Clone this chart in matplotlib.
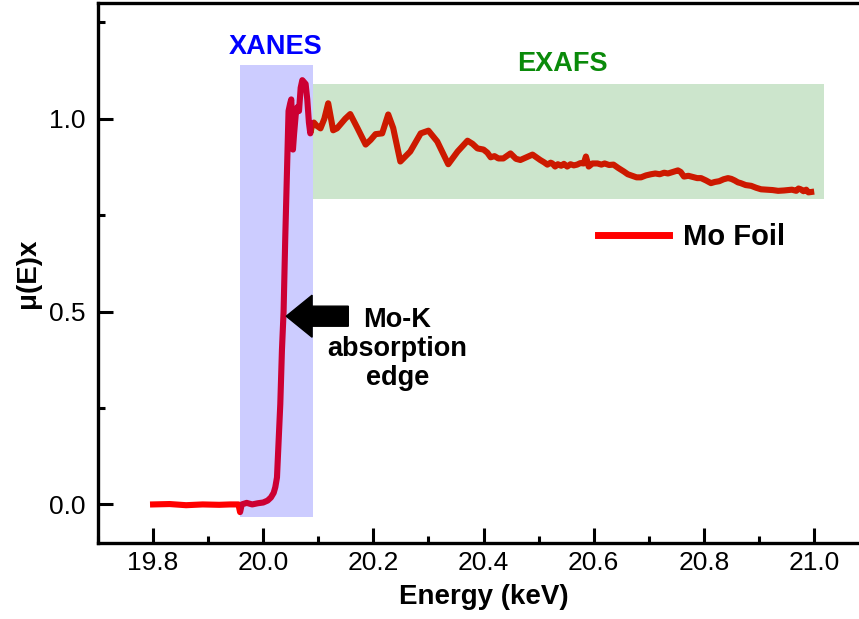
import matplotlib
matplotlib.use("Agg")
import matplotlib.pyplot as plt
from matplotlib.patches import Rectangle, FancyArrow
from matplotlib.ticker import MultipleLocator, FormatStrFormatter

plt.rcParams['font.family'] = ['Liberation Sans', 'DejaVu Sans']

# Energy (keV) and mu(E)x
energy = [19.800, 19.830, 19.860, 19.890, 19.920, 19.940, 19.955, 19.958, 19.961,
          19.970, 19.980, 19.990, 20.000, 20.008, 20.014, 20.019, 20.022, 20.025,
          20.029, 20.031, 20.034, 20.037, 20.040, 20.043, 20.0445, 20.046, 20.049,
          20.0509, 20.0527, 20.054, 20.056, 20.059, 20.062, 20.065, 20.068, 20.071,
          20.074, 20.077, 20.080, 20.083, 20.0855, 20.089, 20.092, 20.097, 20.104,
          20.111, 20.118, 20.127, 20.134, 20.140, 20.149, 20.158, 20.171, 20.186,
          20.195, 20.204, 20.216, 20.227, 20.236, 20.249, 20.267, 20.286, 20.300,
          20.316, 20.336, 20.353, 20.371, 20.380, 20.389, 20.400, 20.407, 20.413,
          20.420, 20.427, 20.436, 20.449, 20.459, 20.467, 20.478, 20.489, 20.496,
          20.503, 20.510, 20.516, 20.522, 20.525, 20.530, 20.535, 20.541, 20.546,
          20.552, 20.558, 20.564, 20.570, 20.576, 20.582, 20.586, 20.591, 20.598,
          20.607, 20.614, 20.620, 20.628, 20.636, 20.645, 20.655, 20.662, 20.670,
          20.678, 20.686, 20.695, 20.704, 20.712, 20.720, 20.728, 20.735, 20.744,
          20.753, 20.758, 20.764, 20.772, 20.780, 20.788, 20.795, 20.804, 20.813,
          20.820, 20.828, 20.836, 20.844, 20.850, 20.856, 20.862, 20.867, 20.876,
          20.886, 20.895, 20.904, 20.914, 20.925, 20.935, 20.946, 20.953, 20.960,
          20.968, 20.972, 20.976, 20.981, 20.986, 20.990, 20.995]
mu = [0.000, 0.001, -0.002, 0.000, -0.001, 0.000, 0.000, -0.020, 0.000,
      0.004, 0.000, 0.003, 0.005, 0.010, 0.018, 0.030, 0.045, 0.070,
      0.200, 0.260, 0.400, 0.500, 0.690, 0.860, 0.950, 1.020, 1.040,
      1.050, 0.980, 0.920, 0.960, 1.010, 1.030, 1.020, 1.080, 1.100,
      1.095, 1.090, 1.050, 0.990, 0.962, 0.985, 0.990, 0.982, 0.975,
      1.000, 1.040, 0.970, 0.975, 0.985, 1.000, 1.012, 0.976, 0.933,
      0.945, 0.960, 0.962, 1.011, 0.976, 0.889, 0.915, 0.962, 0.969,
      0.941, 0.882, 0.915, 0.943, 0.935, 0.923, 0.920, 0.912, 0.900,
      0.903, 0.897, 0.897, 0.910, 0.896, 0.893, 0.900, 0.907, 0.900,
      0.893, 0.887, 0.881, 0.886, 0.884, 0.876, 0.882, 0.878, 0.883,
      0.876, 0.882, 0.879, 0.881, 0.885, 0.884, 0.902, 0.876, 0.884,
      0.884, 0.881, 0.884, 0.880, 0.881, 0.872, 0.863, 0.856, 0.852,
      0.848, 0.848, 0.853, 0.856, 0.858, 0.856, 0.860, 0.858, 0.862,
      0.866, 0.862, 0.850, 0.852, 0.849, 0.846, 0.846, 0.840, 0.833,
      0.836, 0.838, 0.843, 0.846, 0.844, 0.840, 0.835, 0.833, 0.828,
      0.826, 0.821, 0.817, 0.816, 0.815, 0.813, 0.814, 0.815, 0.816,
      0.813, 0.819, 0.817, 0.812, 0.816, 0.809, 0.810]

xanes_range = (19.958, 20.091, -0.033, 1.138)
exafs_range = (20.091, 21.018, 0.791, 1.091)

fig = plt.figure(figsize=(8.59, 6.19), dpi=100)
ax = fig.add_axes([98/859, 76/619, 771/859, 540/619])

ax.plot(energy, mu, color='#ff0000', lw=4.4, solid_joinstyle='round',
        label='Mo Foil', zorder=2)

x0, x1, y0, y1 = xanes_range
ax.add_patch(Rectangle((x0, y0), x1 - x0, y1 - y0, facecolor='#0000ff',
                       alpha=0.2, edgecolor='none', zorder=3))
x0, x1, y0, y1 = exafs_range
ax.add_patch(Rectangle((x0, y0), x1 - x0, y1 - y0, facecolor='#008000',
                       alpha=0.2, edgecolor='none', zorder=3))

ax.text(20.022, 1.187, 'XANES', color='#0000ff', fontsize=19.5,
        fontweight='bold', ha='center', va='center')
ax.text(20.544, 1.143, 'EXAFS', color='#0a8a0a', fontsize=19.5,
        fontweight='bold', ha='center', va='center')

ax.add_patch(FancyArrow(20.1545, 0.488, -0.1127, 0.0, width=0.052,
                        head_width=0.109, head_length=0.047,
                        length_includes_head=True, color='black', zorder=4))
ax.text(20.2436, 0.402, 'Mo-K\nabsorption\nedge', fontsize=19.5,
        fontweight='bold', ha='center', va='center', linespacing=1.15)

ax.set_xlim(19.7, 21.1)
ax.set_ylim(-0.1, 1.3)

ax.xaxis.set_major_locator(MultipleLocator(0.2))
ax.xaxis.set_minor_locator(MultipleLocator(0.1))
ax.yaxis.set_major_locator(MultipleLocator(0.5))
ax.yaxis.set_minor_locator(MultipleLocator(0.25))
ax.xaxis.set_major_formatter(FormatStrFormatter('%.1f'))
ax.yaxis.set_major_formatter(FormatStrFormatter('%.1f'))

ax.tick_params(which='both', direction='in', width=2.2, labelsize=19)
ax.tick_params(which='major', length=10.5)
ax.tick_params(which='minor', length=5)
ax.tick_params(axis='x', pad=6)
ax.tick_params(axis='y', pad=9)
for s in ax.spines.values():
    s.set_linewidth(2.4)

ax.set_xlabel('Energy (keV)', fontsize=20, fontweight='bold', labelpad=6)
ax.set_ylabel('μ(E)x', fontsize=20, fontweight='bold', labelpad=6)

leg = ax.legend(loc='center left', bbox_to_anchor=((598-98)/771, (543-237)/540),
                frameon=False, handlelength=2.45, handletextpad=0.45,
                borderpad=0, borderaxespad=0, prop={'weight': 'bold', 'size': 21})
for line in leg.get_lines():
    line.set_linewidth(5)

fig.savefig('out.png', dpi=100)
